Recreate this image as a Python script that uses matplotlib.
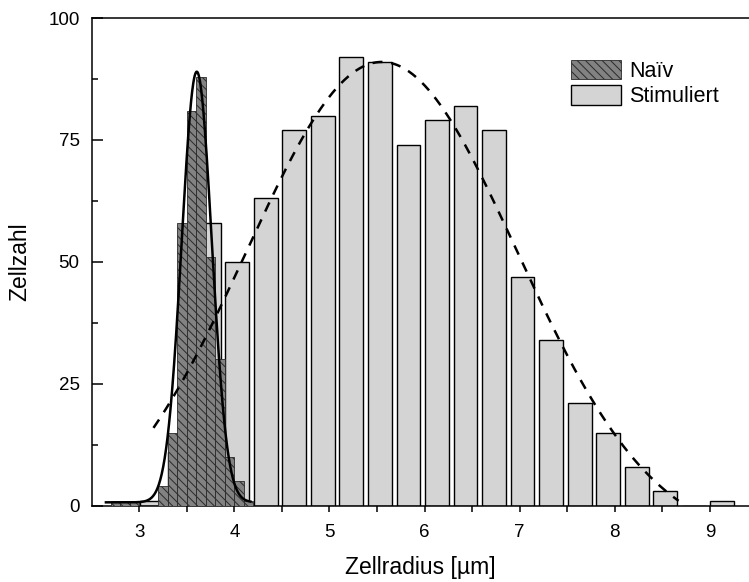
import numpy as np
import matplotlib
matplotlib.use("Agg")
import matplotlib.pyplot as plt
from matplotlib import ticker

plt.rcParams["font.family"] = ["Liberation Sans", "DejaVu Sans"]
plt.rcParams["hatch.linewidth"] = 0.7

# stimulated cells: bin centres (0.3 wide) and counts
stim_x = [3.13, 3.43, 3.73, 4.03, 4.33, 4.63, 4.93, 5.23, 5.53, 5.83, 6.13,
          6.43, 6.73, 7.03, 7.33, 7.63, 7.93, 8.23, 8.53, 8.83, 9.13]
stim_n = [1, 11, 58, 50, 63, 77, 80, 92, 91, 74, 79,
          82, 77, 47, 34, 21, 15, 8, 3, 0, 1]

# naive cells: bin centres (0.1 wide) and counts
naive_x = [2.75, 2.85, 2.95, 3.25, 3.35, 3.45, 3.55, 3.65, 3.75, 3.85, 3.95, 4.05, 4.15]
naive_n = [1, 1, 1, 4, 15, 58, 81, 88, 51, 30, 10, 5, 1]

# gaussian fits (y0, A, xc, sigma, x range)
naive_fit = dict(y0=0.7, A=88.3, xc=3.605, sigma=0.158, x0=2.65, x1=4.17)
stim_fit = dict(y0=-8.0, A=99.0, xc=5.55, sigma=1.425, x0=3.15, x1=8.67)


def gauss_curve(p):
    x = np.linspace(p["x0"], p["x1"], 400)
    return x, p["y0"] + p["A"] * np.exp(-(x - p["xc"]) ** 2 / (2 * p["sigma"] ** 2))


fig = plt.figure(figsize=(7.49, 5.82), dpi=100)
ax = fig.add_axes([0.123, 0.131, 0.877, 0.838])

ax.bar(stim_x, stim_n, width=0.25, color="#d4d4d4", edgecolor="black",
       linewidth=1.0, label="Stimuliert", zorder=2)
ax.bar(naive_x, naive_n, width=0.1, color="#828282", edgecolor="#2a2a2a",
       linewidth=0.6, hatch="\\\\\\\\", label="Naïv", zorder=3)

x, y = gauss_curve(naive_fit)
ax.plot(x, y, color="black", lw=1.8, zorder=4)
x, y = gauss_curve(stim_fit)
ax.plot(x, y, color="black", lw=1.8, dashes=(4, 3.5), zorder=4)

ax.set_xlim(2.505, 9.41)
ax.set_ylim(0, 100)
ax.xaxis.set_major_locator(ticker.MultipleLocator(1))
ax.xaxis.set_minor_locator(ticker.MultipleLocator(0.5))
ax.yaxis.set_major_locator(ticker.MultipleLocator(25))
ax.yaxis.set_minor_locator(ticker.MultipleLocator(12.5))

ax.spines["right"].set_visible(False)
for s in ["left", "bottom", "top"]:
    ax.spines[s].set_linewidth(1.1)

ax.tick_params(axis="x", which="both", direction="out", length=4, width=1.1,
               labelsize=13.5, pad=9)
ax.tick_params(axis="y", which="major", direction="in", length=8, width=1.1,
               labelsize=13.5, pad=9)
ax.tick_params(axis="y", which="minor", direction="in", length=4.5, width=1.1)

ax.set_xlabel("Zellradius [µm]", fontsize=16.5, labelpad=11)
ax.set_ylabel("Zellzahl", fontsize=16.5, labelpad=12)

handles, labels = ax.get_legend_handles_labels()
ax.legend(handles[::-1], labels[::-1], loc="upper left",
          bbox_to_anchor=(571 / 749, 1 - 60 / 582), bbox_transform=fig.transFigure,
          frameon=False, fontsize=15.5, borderpad=0, borderaxespad=0,
          handlelength=2.3, handleheight=1.0, handletextpad=0.4, labelspacing=0.15)

fig.savefig("out.png", dpi=100)
